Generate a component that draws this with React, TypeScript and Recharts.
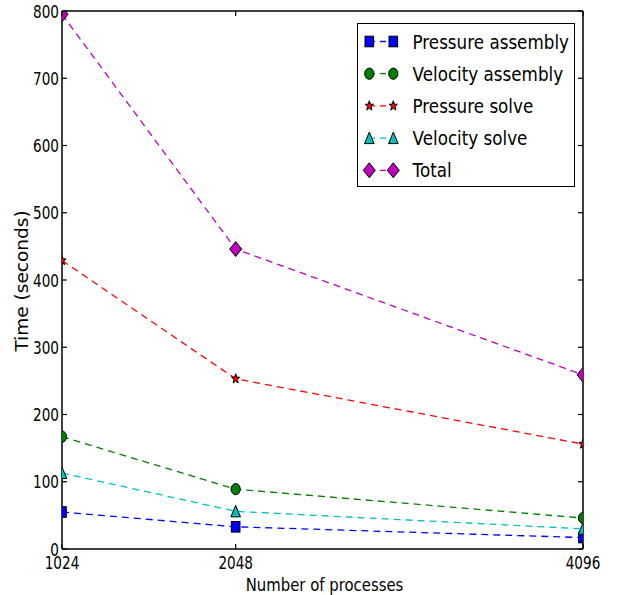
import {Legend, Line, LineChart, XAxis, YAxis} from "recharts";

// 측정 데이터: 프로세스 수별 단계 소요 시간(초)
const processes = [1024, 2048, 4096];
const pressureAssembly = [55, 33, 17];
const velocityAssembly = [167, 89, 46];
const pressureSolve = [429, 253, 156];
const velocitySolve = [113, 56, 30];
const total = [795, 446, 259];

const xTicks = [1024, 2048, 4096];
const yTicks = [0, 100, 200, 300, 400, 500, 600, 700, 800];

type MarkerKind = "square" | "circle" | "star" | "triangle" | "diamond";

interface SeriesDef {
    key: string;
    name: string;
    color: string;
    marker: MarkerKind;
    values: number[];
}

const series: SeriesDef[] = [
    {key: "pa", name: "Pressure assembly", color: "#0000ff", marker: "square", values: pressureAssembly},
    {key: "va", name: "Velocity assembly", color: "#008000", marker: "circle", values: velocityAssembly},
    {key: "ps", name: "Pressure solve", color: "#ff0000", marker: "star", values: pressureSolve},
    {key: "vs", name: "Velocity solve", color: "#00bfbf", marker: "triangle", values: velocitySolve},
    {key: "tot", name: "Total", color: "#bf00bf", marker: "diamond", values: total},
];

const chartData = processes.map((p, i) => {
    const row: Record<string, number> = {processes: p};
    series.forEach(s => {
        row[s.key] = s.values[i];
    });
    return row;
});

const FONT = "DejaVu Sans";
const TICK = 5;
const DASH = "7 5";

// 마커 모양 (가로로 약간 좁게)
const Marker = ({kind, cx, cy, fill}: { kind: MarkerKind; cx: number; cy: number; fill: string }) => {
    const common = {fill, stroke: "#000", strokeWidth: 1};
    switch (kind) {
        case "square":
            return <rect x={cx - 4.3} y={cy - 5.3} width={8.6} height={10.6} {...common}/>;
        case "circle":
            return <ellipse cx={cx} cy={cy} rx={4.6} ry={5.6} {...common}/>;
        case "triangle":
            return <polygon points={`${cx},${cy - 6} ${cx + 4.8},${cy + 5.5} ${cx - 4.8},${cy + 5.5}`} {...common}/>;
        case "diamond":
            return <polygon points={`${cx},${cy - 7.5} ${cx + 6},${cy} ${cx},${cy + 7.5} ${cx - 6},${cy}`} {...common}/>;
        case "star": {
            const pts: string[] = [];
            for (let k = 0; k < 10; k++) {
                const r = k % 2 === 0 ? 1 : 0.42;
                const a = -Math.PI / 2 + (k * Math.PI) / 5;
                pts.push(`${cx + Math.cos(a) * r * 4.3},${cy + Math.sin(a) * r * 5.2}`);
            }
            return <polygon points={pts.join(" ")} {...common}/>;
        }
    }
    return null;
};

interface TickProps {
    x?: number;
    y?: number;
    payload?: { value: number };
}

const LeftTick = ({x = 0, y = 0, payload}: TickProps) => (
    <g>
        <line x1={x} y1={y} x2={x + TICK} y2={y} stroke="#000" strokeWidth={1.2}/>
        <text transform={`translate(${x - 3},${y + 6.5}) scale(0.8,1)`} textAnchor="end"
              fontFamily={FONT} fontSize={17} fill="#000">
            {payload?.value}
        </text>
    </g>
);

const RightTick = ({x = 0, y = 0}: TickProps) => (
    <line x1={x} y1={y} x2={x - TICK} y2={y} stroke="#000" strokeWidth={1.2}/>
);

const BottomTick = ({x = 0, y = 0, payload}: TickProps) => (
    <g>
        <line x1={x} y1={y} x2={x} y2={y - TICK} stroke="#000" strokeWidth={1.2}/>
        <text transform={`translate(${x},${y + 20}) scale(0.8,1)`} textAnchor="middle"
              fontFamily={FONT} fontSize={17} fill="#000">
            {payload?.value}
        </text>
    </g>
);

const TopTick = ({x = 0, y = 0}: TickProps) => (
    <line x1={x} y1={y} x2={x} y2={y + TICK} stroke="#000" strokeWidth={1.2}/>
);

interface ViewBox {
    viewBox?: { x: number; y: number; width: number; height: number };
}

const XLabel = ({viewBox}: ViewBox) => {
    if (!viewBox) return null;
    const cx = viewBox.x + viewBox.width / 2;
    return (
        <text transform={`translate(${cx + 2},${viewBox.y + 42}) scale(0.85,1)`} textAnchor="middle"
              fontFamily={FONT} fontSize={17.5} fill="#000">
            Number of processes
        </text>
    );
};

const YLabel = ({viewBox}: ViewBox) => {
    if (!viewBox) return null;
    const cy = viewBox.y + viewBox.height / 2;
    return (
        <text transform={`translate(28,${cy + 1}) rotate(-90)`} textAnchor="middle"
              fontFamily={FONT} fontSize={18.5} fill="#000">
            Time (seconds)
        </text>
    );
};

interface LegendEntry {
    value?: string;
}

const LEGEND_W = 218;
const LEGEND_H = 164;

// 범례는 시리즈 정의 순서대로 그린다
const ChartLegend = ({payload}: { payload?: LegendEntry[] }) => {
    const shown = new Set((payload ?? []).map(p => p.value));
    return (
        <svg width={LEGEND_W} height={LEGEND_H} style={{display: "block"}}>
            <rect x={0.5} y={0.5} width={LEGEND_W - 1} height={LEGEND_H - 1} fill="#fff" stroke="#000"
                  strokeWidth={1}/>
            {series.filter(s => shown.has(s.name)).map((s, i) => {
                const cy = 18.5 + i * 32.2;
                return (
                    <g key={s.key}>
                        <line x1={12} y1={cy} x2={36} y2={cy} stroke={s.color} strokeWidth={1.3}
                              strokeDasharray="6 5"/>
                        <Marker kind={s.marker} cx={12.3} cy={cy} fill={s.color}/>
                        <Marker kind={s.marker} cx={36.3} cy={cy} fill={s.color}/>
                        <text transform={`translate(55.5,${cy + 7}) scale(0.86,1)`} fontFamily={FONT}
                              fontSize={19.5} fill="#000">
                            {s.name}
                        </text>
                    </g>
                );
            })}
        </svg>
    );
};

const App = () => {
    return (
        <div style={{position: "absolute", left: 0, top: 0, width: 617, height: 595, background: "#fff"}}>
            <LineChart width={617} height={595} data={chartData} margin={{top: 0, right: 0, bottom: 0, left: 0}}>
                <XAxis dataKey="processes" type="number" domain={[1024, 4096]} ticks={xTicks} allowDataOverflow
                       height={46} tickSize={0} tickMargin={0} tick={<BottomTick/>} tickLine={false}
                       axisLine={{stroke: "#000", strokeWidth: 1.5}} label={<XLabel/>}/>
                <XAxis xAxisId="top" orientation="top" dataKey="processes" type="number" domain={[1024, 4096]}
                       ticks={xTicks} allowDataOverflow height={11} tickSize={0} tickMargin={0} tick={<TopTick/>}
                       tickLine={false} axisLine={{stroke: "#000", strokeWidth: 1.5}}/>
                <YAxis type="number" domain={[0, 800]} ticks={yTicks} allowDataOverflow width={62} tickSize={0}
                       tickMargin={0} tick={<LeftTick/>} tickLine={false}
                       axisLine={{stroke: "#000", strokeWidth: 1.5}} label={<YLabel/>}/>
                <YAxis yAxisId="right" orientation="right" type="number" domain={[0, 800]} ticks={yTicks}
                       allowDataOverflow width={34} tickSize={0} tickMargin={0} tick={<RightTick/>}
                       tickLine={false} axisLine={{stroke: "#000", strokeWidth: 1.5}}/>
                <Legend layout="vertical" align="center" verticalAlign="middle" content={<ChartLegend/>}
                        wrapperStyle={{position: "absolute", left: 357, top: 23, width: LEGEND_W, height: LEGEND_H}}/>
                {series.map(s => (
                    <Line
                        key={s.key}
                        type="linear"
                        dataKey={s.key}
                        name={s.name}
                        stroke={s.color}
                        strokeWidth={1.3}
                        strokeDasharray={DASH}
                        activeDot={false}
                        isAnimationActive={false}
                        dot={(props: { cx?: number; cy?: number; index?: number }) => (
                            <Marker key={`${s.key}-${props.index}`} kind={s.marker} cx={props.cx ?? 0}
                                    cy={props.cy ?? 0} fill={s.color}/>
                        )}
                    />
                ))}
            </LineChart>
        </div>
    );
};

export default App;
